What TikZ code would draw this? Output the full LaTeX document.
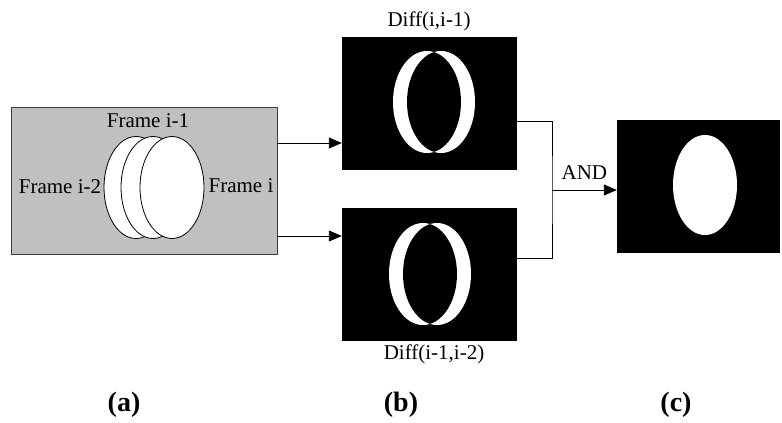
\documentclass[tikz,border=0pt]{standalone}
\usepackage{fontspec}
\setmainfont{Liberation Serif}
\usetikzlibrary{arrows.meta}
\definecolor{fgray}{RGB}{192,192,192}
\definecolor{fline}{RGB}{60,60,60}
\begin{document}
\begin{tikzpicture}[x=1pt,y=-1pt,
        font=\fontsize{21}{24}\selectfont,
        g/.style ={draw=fline, fill=fgray, line width=0.9pt, minimum width=266pt, minimum height=147pt, inner sep=0pt},
        k/.style ={fill=black, minimum width=175pt, minimum height=133pt, inner sep=0pt},
        e/.style ={draw, fill=white, line width=0.8pt},
        ln/.style ={line width=0.9pt},
        arr/.style={ln, -{Triangle[length=13pt,width=11pt]}},
        sub/.style={font=\fontsize{28}{30}\selectfont\bfseries}]
        \useasboundingbox (0,0) rectangle (782,423);
        \node[g] (fa) at (144,180.5){};
        \foreach \x in {136,153,172}   {\draw[e] (\x,187.5) ellipse (32pt and 51pt);}
        \node (f1) at (148,121){Frame i-1};
        \node (f2) at (60,187){Frame i-2};
        \node (f0) at (241,186){Frame i};
        \node[k] (d1) at (429.5,103.5){};
        \node[k] (d2) at (429.5,274){};
        \node[k, minimum width=163pt] (d3) at (698.5,186.5){};
        \foreach \cx/\cy in {434/102,430/274} {
            \fill[white] (\cx-7,\cy) ellipse (34pt and 51pt) (\cx+7,\cy) ellipse (34pt and 51pt);
            \begin{scope}
                \clip (\cx-7,\cy) ellipse (34pt and 51pt);
                \fill[black] (\cx+7,\cy) ellipse (34pt and 51pt);
            \end{scope}}
        \fill[white] (705,185) ellipse (32pt and 50pt);
        \node (t1) at (429,21){Diff(i,i-1)};
        \node (t2) at (434,354){Diff(i-1,i-2)};
% Verbindungen
        \coordinate (j) at (552,190);
        \draw[arr] ([yshift=37.5pt]fa.east) -- ([yshift=-39.5pt]d1.west);
        \draw[arr] ([yshift=-55.5pt]fa.east) -- ([yshift=38pt]d2.west);
        \draw[ln]  ([yshift=-17.5pt]d1.east) -| (j) |- ([yshift=16pt]d2.east);
        \draw[arr] (j) -- node[above=7pt]{AND} (d3.west |- j);
        \foreach \l/\x in {a/124,b/401,c/676}   {\node[sub] (s\l) at (\x,405){(\l)};}
    \end{tikzpicture}
\end{document}
